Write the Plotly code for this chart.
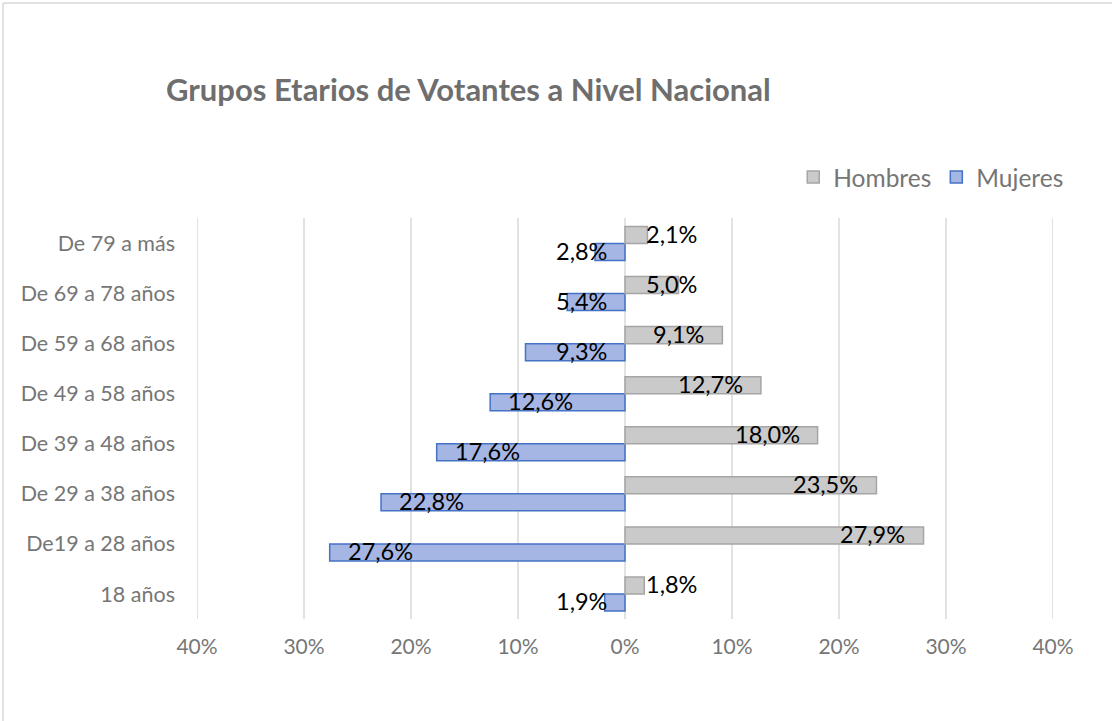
import plotly.graph_objects as go

categories = ["18 años", "De19 a 28 años", "De 29 a 38 años", "De 39 a 48 años",
              "De 49 a 58 años", "De 59 a 68 años", "De 69 a 78 años", "De 79 a más"]
hombres = [1.8, 27.9, 23.5, 18.0, 12.7, 9.1, 5.0, 2.1]
mujeres = [1.9, 27.6, 22.8, 17.6, 12.6, 9.3, 5.4, 2.8]
tick_vals = [-40, -30, -20, -10, 0, 10, 20, 30, 40]
tick_text = ["40%", "30%", "20%", "10%", "0%", "10%", "20%", "30%", "40%"]

FONT = "Lato, 'Open Sans', sans-serif"
GREY_TXT = "#767676"

def fmt(v):
    return f"{v:.1f}".replace(".", ",") + "%"

fig = go.Figure()
fig.add_trace(go.Bar(
    name="Mujeres", y=categories, x=[-v for v in mujeres], orientation="h",
    marker=dict(color="#a6b6e4", line=dict(color="#4472c4", width=1.5)),
    hoverinfo="skip",
))
fig.add_trace(go.Bar(
    name="Hombres", y=categories, x=hombres, orientation="h",
    marker=dict(color="#cacaca", line=dict(color="#a5a5a5", width=1.5)),
    hoverinfo="skip",
))

annotations = []
for i, v in enumerate(hombres):
    if v >= 9:
        annotations.append(dict(x=v - 1.5, y=i + 0.17, xanchor="right"))
    else:
        annotations.append(dict(x=1.8, y=i + 0.17, xanchor="left"))
    annotations[-1]["text"] = fmt(v)
    annotations[-1]["yshift"] = 1
for i, v in enumerate(mujeres):
    if v >= 10:
        annotations.append(dict(x=-(v - 1.5), y=i - 0.17, xanchor="left"))
    else:
        annotations.append(dict(x=-1.5, y=i - 0.17, xanchor="right"))
    annotations[-1]["text"] = fmt(v)
    annotations[-1]["yshift"] = 1
for a in annotations:
    a.update(xref="x", yref="y", showarrow=False, yanchor="middle",
             font=dict(family=FONT, size=23.5, color="#000000"))

# vertical grid lines at every tick (including the range edges)
grid_shapes = [dict(type="line", xref="x", yref="paper", x0=t, x1=t, y0=0, y1=1,
                    layer="below", line=dict(color="#d9d9d9", width=1.5))
               for t in tick_vals]

fig.update_layout(
    width=1112, height=721,
    paper_bgcolor="white", plot_bgcolor="white",
    margin=dict(l=197, r=59, t=218, b=102),
    barmode="group", bargap=0.32, bargroupgap=0,
    title=dict(text="<b>Grupos Etarios de Votantes a Nivel Nacional</b>",
               x=166 / 1112, xanchor="left", xref="container",
               y=1 - 90 / 721, yanchor="middle", yref="container",
               font=dict(family=FONT, size=31, color="#6e6e6e")),
    legend=dict(orientation="h", traceorder="reversed",
                x=1.019, xanchor="right", y=1.102, yanchor="middle",
                font=dict(family=FONT, size=24.5, color=GREY_TXT),
                bgcolor="rgba(0,0,0,0)"),
    xaxis=dict(range=[-40, 40], tickvals=tick_vals, ticktext=tick_text,
               showgrid=False, zeroline=False, showline=False, ticks="",
               ticklabelstandoff=13,
               tickfont=dict(family=FONT, size=21, color=GREY_TXT)),
    yaxis=dict(type="category", categoryorder="array", categoryarray=categories,
               showgrid=False, zeroline=False, showline=False, ticks="",
               ticklabelstandoff=21,
               tickfont=dict(family=FONT, size=21.5, color=GREY_TXT)),
    annotations=annotations,
    shapes=grid_shapes + [
        dict(type="line", xref="paper", yref="paper",
             x0=(3 - 197) / 856, x1=(1112 - 197) / 856,
             y0=(619 - 3) / 401, y1=(619 - 3) / 401,
             line=dict(color="#d9d9d9", width=1.5)),
        dict(type="line", xref="paper", yref="paper",
             x0=(3 - 197) / 856, x1=(3 - 197) / 856,
             y0=(619 - 3) / 401, y1=(619 - 721) / 401,
             line=dict(color="#d9d9d9", width=1.5)),
    ],
)

fig.write_html("out.html", config={"displayModeBar": False},
               post_script="document.body.style.margin='0';document.body.style.overflow='hidden';")
